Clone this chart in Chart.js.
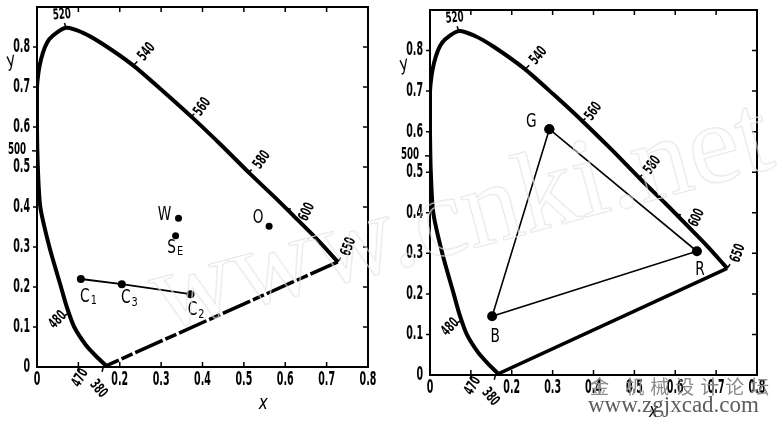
<!DOCTYPE html>
<html>
<head>
<meta charset="utf-8">
<script src="https://cdn.jsdelivr.net/npm/chart.js@4.4.0/dist/chart.umd.min.js"></script>
<style>
    body { margin: 0; background: #fff; width: 778px; height: 425px; overflow: hidden; position: relative; }
    canvas { position: absolute; top: 0; }
    #leftChart { left: 0; }
    #rightChart { left: 390px; }
    .mark { position: absolute; pointer-events: none; white-space: nowrap; }
    #wm { left: 165px; top: 240px; font: 115px "Liberation Serif", serif; color: transparent;
          -webkit-text-stroke: 1px #e4e4e4; transform: rotate(-15deg); transform-origin: 0 100%; line-height: 105px; }
    #cnTag { left: 590px; top: 372px; font: 19px "Noto Sans CJK SC", sans-serif; color: #8a8a8a; letter-spacing: 6px; }
    #site { left: 588px; top: 392px; font: 23px "Liberation Serif", serif; color: #5e5e5e; }
</style>
</head>
<body>
<canvas id="leftChart" width="385" height="425"></canvas>
<canvas id="rightChart" width="388" height="425"></canvas>
<div class="mark" id="wm">www.cnki.net</div>
<div class="mark" id="cnTag">金 机械设计论坛</div>
<div class="mark" id="site">www.zgjxcad.com</div>
<script>
// spectral locus, 380 nm end first
const locusX = [0.167, 0.140, 0.118, 0.090, 0.072, 0.058, 0.030, 0.008, 0.002, 0.000, 0.000, 0.010, 0.030, 0.070, 0.110, 0.155, 0.230, 0.302, 0.375, 0.445, 0.514, 0.575, 0.620, 0.680, 0.727];
const locusY = [0.003, 0.030, 0.055, 0.100, 0.150, 0.200, 0.300, 0.400, 0.500, 0.600, 0.700, 0.770, 0.820, 0.848, 0.836, 0.810, 0.756, 0.692, 0.624, 0.555, 0.484, 0.424, 0.378, 0.316, 0.263];

// purple line 650 -> 380
const purpleX = [0.727, 0.167];
const purpleY = [0.263, 0.003];

// wavelength marks on the locus
const waveNames = ['520', '540', '560', '580', '600', '650', '500', '480', '470', '380'];
const waveX = [0.070, 0.234, 0.371, 0.510, 0.602, 0.727, 0.000, 0.077, 0.100, 0.160];
const waveY = [0.848, 0.755, 0.625, 0.485, 0.397, 0.263, 0.540, 0.135, 0.000, 0.000];

// left diagram: C1 - C3 - C2 line and white points
const cNames = ['C1', 'C3', 'C2'];
const cX = [0.106, 0.205, 0.371];
const cY = [0.220, 0.207, 0.182];
const srcNames = ['W', 'SE', 'O'];
const srcX = [0.342, 0.335, 0.561];
const srcY = [0.372, 0.328, 0.352];

// right diagram: primaries triangle
const rgbNames = ['G', 'R', 'B'];
const rgbX = [0.292, 0.653, 0.152];
const rgbY = [0.606, 0.305, 0.145];

const xTickLabels = ['0', '', '0.2', '0.3', '0.4', '0.5', '0.6', '0.7', '0.8'];
const yTickLabels = ['0', '0.1', '0.2', '0.3', '0.4', '0.5', '0.6', '0.7', '0.8', ''];

const pts = (xs, ys) => xs.map((x, i) => ({ x: x, y: ys[i] }));

// label offsets (px) and rotation (deg) for wavelength marks
const waveLayout = {
    '520': [-4, -13, -5], '540': [13, -13, -50], '560': [12, -10, -55], '580': [14, -13, -55],
    '600': [21, 4, -65], '650': [11, -15, -70], '500': [-20, -1, 0], '480': [-11, 7, -45],
    '470': [2, 11, -60], '380': [-5, 22, 50]
};
// label offsets (px) for point names
const nameLayout = {
    'W': [-14, -3], 'SE': [-4, 12], 'O': [-11, -8],
    'C1': [4, 18], 'C3': [4, 14], 'C2': [2, 16],
    'G': [-18, -7], 'R': [3, 19], 'B': [3, 21]
};

const handFont = '"DejaVu Sans", sans-serif';

// narrow, hand-lettered look: squeeze the text horizontally
function handText(ctx, text, x, y, font, squeeze, rot, align) {
    ctx.save();
    ctx.font = font;
    ctx.textAlign = align || 'center';
    ctx.textBaseline = 'middle';
    ctx.translate(x, y);
    if (rot) ctx.rotate(rot * Math.PI / 180);
    ctx.scale(squeeze, 1);
    ctx.fillText(text, 0, 0);
    const w = ctx.measureText(text).width * squeeze;
    ctx.restore();
    return w;
}

const sketchPlugin = {
    id: 'sketch',
    afterDraw(chart, args, opts) {
        const ctx = chart.ctx;
        const a = chart.chartArea;
        const sx = chart.scales.x, sy = chart.scales.y;
        ctx.save();
        ctx.strokeStyle = '#000';
        ctx.fillStyle = '#000';
        ctx.lineWidth = 2;
        ctx.strokeRect(a.left, a.top, a.right - a.left, a.bottom - a.top);

        // tick marks
        ctx.lineWidth = 1.5;
        ctx.beginPath();
        for (let i = 1; i < 8; i++) {
            const px = sx.getPixelForValue(i / 10);
            ctx.moveTo(px, a.bottom); ctx.lineTo(px, a.bottom - 5);
            ctx.moveTo(px, a.top); ctx.lineTo(px, a.top + 5);
        }
        for (let i = 1; i < 9; i++) {
            const py = sy.getPixelForValue(i / 10);
            ctx.moveTo(a.left, py); ctx.lineTo(a.left - 4, py);
            ctx.moveTo(a.right, py); ctx.lineTo(a.right - 5, py);
        }
        ctx.stroke();

        // tick labels
        const tickFont = 'bold 19px ' + handFont;
        sx.ticks.forEach((t, i) => {
            if (xTickLabels[i]) handText(ctx, xTickLabels[i], sx.getPixelForValue(t.value), a.bottom + 13, tickFont, 0.5);
        });
        sy.ticks.forEach((t, i) => {
            if (yTickLabels[i]) handText(ctx, yTickLabels[i], a.left - 7, sy.getPixelForValue(t.value), tickFont, 0.5, 0, 'right');
        });

        // wavelength marks
        waveNames.forEach((w, i) => {
            const px = sx.getPixelForValue(waveX[i]);
            const py = sy.getPixelForValue(waveY[i]);
            const l = waveLayout[w];
            const d = Math.hypot(l[0], l[1]);
            ctx.beginPath();
            ctx.moveTo(px, py);
            ctx.lineTo(px + l[0] / d * 5, py + l[1] / d * 5);
            ctx.stroke();
            handText(ctx, w, px + l[0], py + l[1], 'bold 15px ' + handFont, 0.58, l[2]);
        });

        // point names
        opts.names.forEach(n => {
            const i = n.list.indexOf(n.name);
            const px = sx.getPixelForValue(n.xs[i]);
            const py = sy.getPixelForValue(n.ys[i]);
            const l = nameLayout[n.name];
            const w = handText(ctx, n.name[0], px + l[0], py + l[1], '19px ' + handFont, 0.72);
            if (n.name.length > 1) {
                handText(ctx, n.name.slice(1), px + l[0] + w / 2 + 1, py + l[1] + 4, '13px ' + handFont, 0.75, 0, 'left');
            }
        });

        // axis names
        handText(ctx, 'y', a.left - 26, sy.getPixelForValue(0.765), 'italic 19px ' + handFont, 0.8, -15);
        handText(ctx, 'x', sx.getPixelForValue(0.547), a.bottom + 37, 'italic 19px ' + handFont, 0.8);
        ctx.restore();
    }
};

function makeChart(id, datasets, names, layout) {
    return new Chart(document.getElementById(id), {
        type: 'scatter',
        data: { datasets: datasets },
        options: {
            responsive: false,
            animation: false,
            layout: { padding: layout.padding },
            plugins: {
                legend: { display: false },
                tooltip: { enabled: false },
                sketch: { names: names }
            },
            scales: {
                x: {
                    type: 'linear', min: 0, max: 0.8,
                    afterFit: s => { s.height = layout.xh; },
                    grid: { display: false },
                    border: { display: false },
                    ticks: { stepSize: 0.1, display: false }
                },
                y: {
                    type: 'linear', min: 0, max: 0.9,
                    afterFit: s => { s.width = layout.yw; },
                    grid: { display: false },
                    border: { display: false },
                    ticks: { stepSize: 0.1, display: false }
                }
            }
        },
        plugins: [sketchPlugin]
    });
}

const locusSet = {
    data: pts(locusX, locusY), showLine: true, borderColor: '#000', borderWidth: 4,
    pointRadius: 0, tension: 0.25, fill: false
};

document.addEventListener('DOMContentLoaded', function() {
    makeChart('leftChart', [
        locusSet,
        { data: pts(purpleX, purpleY), showLine: true, borderColor: '#000', borderWidth: 3.5,
          borderDash: [30, 3, 12, 3], pointRadius: 0 },
        { data: pts(cX, cY), showLine: true, borderColor: '#000', borderWidth: 1.8,
          pointRadius: 4, pointBackgroundColor: '#000', pointBorderWidth: 0 },
        { data: pts(srcX, srcY), showLine: false, pointRadius: 3.5,
          pointBackgroundColor: '#000', pointBorderWidth: 0 }
    ], cNames.map(n => ({ name: n, list: cNames, xs: cX, ys: cY }))
        .concat(srcNames.map(n => ({ name: n, list: srcNames, xs: srcX, ys: srcY }))),
    { padding: { top: 7, right: 17, bottom: 0, left: 0 }, xh: 58, yw: 37 });

    makeChart('rightChart', [
        locusSet,
        { data: pts(purpleX, purpleY), showLine: true, borderColor: '#000', borderWidth: 3.5, pointRadius: 0 },
        { data: pts(rgbX.concat(rgbX[0]), rgbY.concat(rgbY[0])), showLine: true, borderColor: '#000',
          borderWidth: 1.6, pointRadius: 5, pointBackgroundColor: '#000', pointBorderWidth: 0 }
    ], rgbNames.map(n => ({ name: n, list: rgbNames, xs: rgbX, ys: rgbY })),
    { padding: { top: 10, right: 21, bottom: 0, left: 0 }, xh: 50, yw: 40 });
});
</script>
</body>
</html>
